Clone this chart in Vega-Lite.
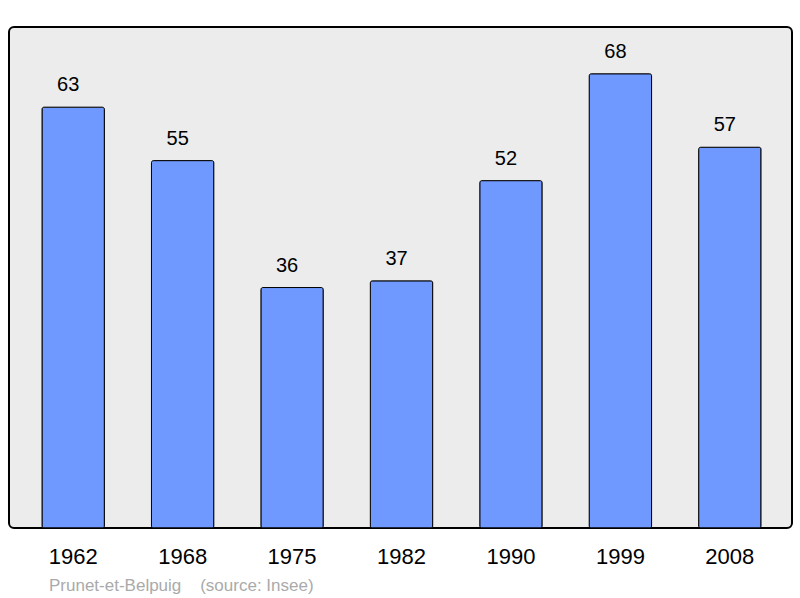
{
  "$schema": "https://vega.github.io/schema/vega-lite/v6.json",
  "autosize": "none",
  "width": 783,
  "height": 501,
  "padding": {"left": 9, "top": 27, "right": 8, "bottom": 70},
  "background": "#ffffff",
  "config": {
    "view": {"fill": "#ececec", "stroke": "#000000", "strokeWidth": 2, "cornerRadius": 5},
    "font": "Liberation Sans"
  },
  "title": {
    "text": "Prunet-et-Belpuig \u00a0\u00a0\u00a0(source: Insee)",
    "orient": "bottom",
    "anchor": "start",
    "dx": 40,
    "offset": 11,
    "fontSize": 17,
    "fontWeight": "normal",
    "color": "#aaaaaa",
    "font": "Liberation Sans"
  },
  "data": {
    "values": [
      {"year": "1962", "pop": 63},
      {"year": "1968", "pop": 55},
      {"year": "1975", "pop": 36},
      {"year": "1982", "pop": 37},
      {"year": "1990", "pop": 52},
      {"year": "1999", "pop": 68},
      {"year": "2008", "pop": 57}
    ]
  },
  "encoding": {
    "x": {
      "field": "year",
      "type": "nominal",
      "sort": null,
      "scale": {"paddingInner": 0.43, "paddingOuter": 0.2924, "align": 0.516},
      "axis": {
        "title": null,
        "labelAngle": 0,
        "labelFontSize": 22,
        "labelColor": "#000000",
        "labelPadding": 18,
        "ticks": false,
        "domain": false,
        "grid": false,
        "labelFont": "Liberation Sans"
      }
    },
    "y": {
      "field": "pop",
      "type": "quantitative",
      "scale": {"domain": [0, 75], "nice": false},
      "axis": null
    }
  },
  "layer": [
    {
      "mark": {"type": "bar", "fill": "#7099ff", "stroke": "#000000", "strokeWidth": 1, "cornerRadius": 2}
    },
    {
      "mark": {"type": "text", "baseline": "bottom", "dx": -5, "dy": -12, "fontSize": 20, "color": "#000000", "font": "Liberation Sans"},
      "encoding": {"text": {"field": "pop", "type": "quantitative"}}
    }
  ]
}
